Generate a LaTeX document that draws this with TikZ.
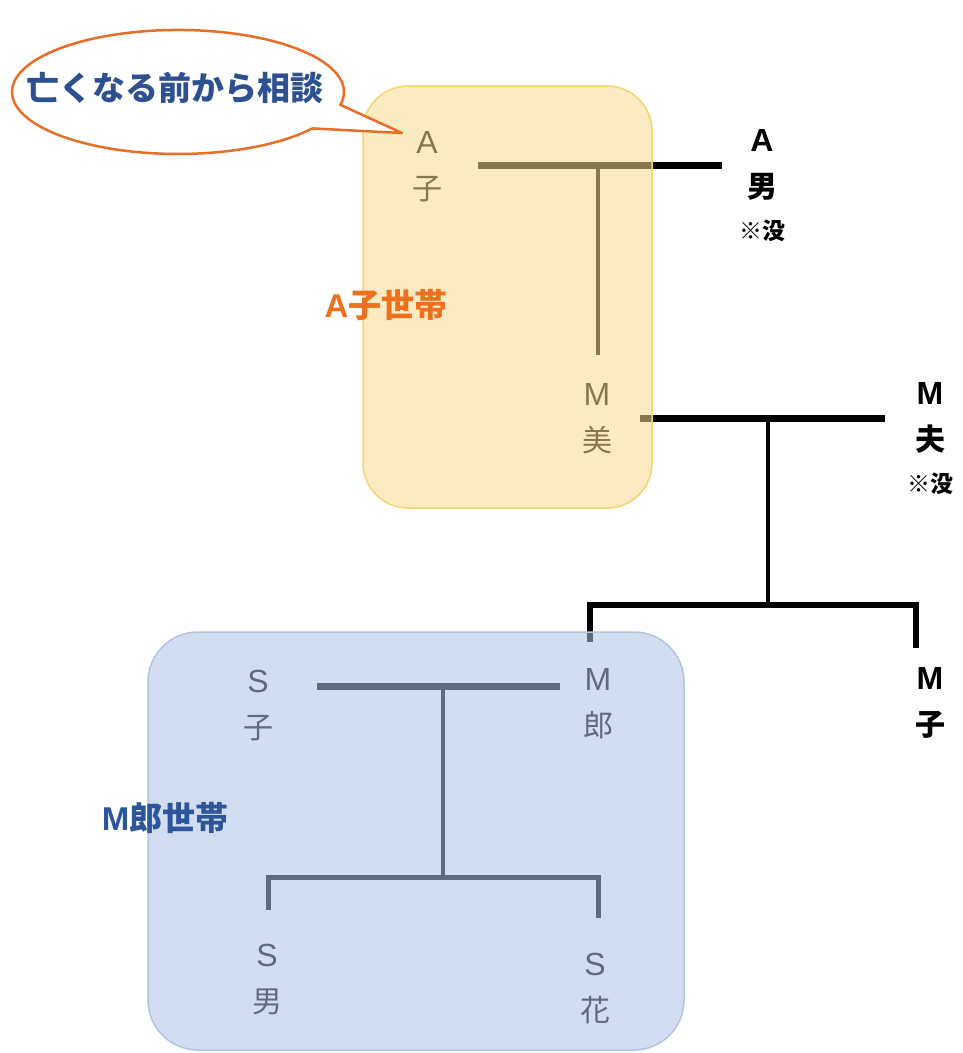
\documentclass[tikz,border=0pt]{standalone}
\usepackage{fontspec}
\newfontfamily\jp{Noto Sans CJK JP}
\newfontfamily\lat{Liberation Sans}
\definecolor{yfill}{RGB}{250,220,145}
\definecolor{ybord}{RGB}{245,212,110}
\definecolor{bfill}{RGB}{176,194,231}
\definecolor{bbord}{RGB}{180,195,225}
\definecolor{orangeL}{RGB}{238,112,30}
\definecolor{bubbord}{RGB}{232,110,40}
\definecolor{bubtext}{RGB}{45,80,145}
\definecolor{bluelabel}{RGB}{45,85,155}
\newcommand{\pname}[2]{{\lat\fontsize{32}{46}\selectfont #1}\\{\jp #2}}
\begin{document}
\begin{tikzpicture}[x=1pt,y=-1pt,
  person/.style={font=\fontsize{30}{46}\selectfont,align=center,inner sep=0pt,text=black},
  outer/.style={person,font=\fontsize{30}{46}\selectfont\bfseries},
  note/.style={font=\jp\bfseries\fontsize{23}{24}\selectfont,inner sep=0pt,text=black},
  wed/.style={line width=7pt,black},
  desc/.style={line width=4pt,black},
  kids/.style={line width=6pt,black,line join=miter},
  grp/.style={line width=1.5pt,fill opacity=0.55},
  label/.style={font=\bfseries\fontsize{33}{33}\selectfont,inner sep=0pt}]
\useasboundingbox (0,0) rectangle (963,1053);
\fill[white] (0,0) rectangle (963,1053);
% persons
\node[person] (Ako) at (427,167) {\pname{A}{子}};
\node[outer] (Aotoko) at (762,165) {\pname{A}{男}};
\node[note] (Abotsu) at (762,231) {※没};
\node[person] (Mmi) at (597,419) {\pname{M}{美}};
\node[outer] (Mo) at (930,418) {\pname{M}{夫}};
\node[note] (Mbotsu) at (930,484) {※没};
\node[person] (Mro) at (598,704) {\pname{M}{郎}};
\node[person] (Sko) at (258,706) {\pname{S}{子}};
\node[outer] (Mko) at (930,703) {\pname{M}{子}};
\node[person] (Sotoko) at (267,980) {\pname{S}{男}};
\node[person] (Shana) at (595,989) {\pname{S}{花}};
% connectors
\coordinate (w1a) at (478,165); \coordinate (w1b) at (722,165);
\coordinate (d1a) at (598,165); \coordinate (d1b) at (598,355);
\draw[wed] (w1a) -- (w1b);
\draw[desc] (d1a) -- (d1b);
\coordinate (w2a) at (640,418); \coordinate (w2b) at (885,418);
\coordinate (d2a) at (768,418); \coordinate (d2b) at (768,605);
\draw[wed] (w2a) -- (w2b);
\draw[desc] (d2a) -- (d2b);
\coordinate (k1a) at (590,642); \coordinate (k1l) at (590,605);
\coordinate (k1r) at (916,605); \coordinate (k1b) at (916,648);
\draw[kids] (k1a) -- (k1l) -- (k1r) -- (k1b);
\coordinate (w3a) at (317,686); \coordinate (w3b) at (560,686);
\coordinate (d3a) at (443,686); \coordinate (d3b) at (443,877);
\draw[wed] (w3a) -- (w3b);
\draw[desc] (d3a) -- (d3b);
\coordinate (k2a) at (268,910); \coordinate (k2l) at (268,877);
\coordinate (k2r) at (598,877); \coordinate (k2b) at (598,918);
\draw[kids,line width=5pt] (k2a) -- (k2l) -- (k2r) -- (k2b);
% household boxes
\draw[grp,draw=ybord,fill=yfill,rounded corners=45pt] (363,86) rectangle (652,508);
\draw[grp,draw=bbord,fill=bfill,rounded corners=50pt] (148,632) rectangle (684,1050);
\node[label,text=orangeL] (Alabel) at (386,305) {{\lat A}{\jp 子世帯}};
\node[label,text=bluelabel] (Mlabel) at (165,818) {{\lat M}{\jp 郎世帯}};
% speech bubble
\draw[draw=bubbord,line width=2.5pt,fill=white,line join=round]
  (312.3,128.4) arc[start angle=36,end angle=372,x radius=166,y radius=62]
  -- (402,133) -- cycle;
\node[font=\jp\bfseries\fontsize{33}{33}\selectfont,text=bubtext,inner sep=0pt] (bub) at (175,88) {亡くなる前から相談};
\end{tikzpicture}
\end{document}
